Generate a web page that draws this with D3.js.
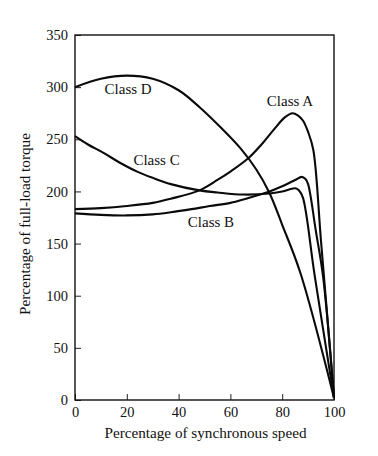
<!DOCTYPE html>
<html>
<head>
<meta charset="utf-8">
<script src="https://cdn.jsdelivr.net/npm/d3@7"></script>
<style>
  html, body { margin: 0; padding: 0; background: #fff; }
  svg text { fill: #111; }
</style>
</head>
<body>
<div id="chart"></div>
<script>
//////////////////////
//  main constants  //
//////////////////////
const WIDTH = 378;
const HEIGHT = 456;
const MARGIN = { TOP: 35, BOTTOM: 56, LEFT: 75, RIGHT: 44 };
const FONT = 'Liberation Serif';

// torque-speed curves: x = % synchronous speed, y = % full-load torque
const classA_x = [0, 10, 20, 30, 37, 48, 55, 60, 67, 72, 77, 81, 84, 86, 88, 90, 92, 95, 100];
const classA_y = [183, 184, 186, 189, 193, 201, 211, 219, 232, 245, 260, 271, 275, 273, 268, 257, 240, 152, 2];

const classB_x = [0, 10, 20, 30, 37, 45, 52, 60, 66, 74, 80, 85, 87.5, 89, 90, 93, 95.8, 100];
const classB_y = [179, 177.5, 177, 178, 180, 183, 186, 189, 193, 199, 205, 211, 214, 212, 207, 162, 118, 2];

const classC_x = [0, 5, 11, 17, 24, 30, 37, 48, 55, 65, 75, 80, 85, 86.5, 88, 92.5, 100];
const classC_y = [253, 245, 237, 228, 219, 213, 207, 201, 199, 197, 198, 200, 203, 201, 194, 120, 2];

const classD_x = [0, 10, 20, 30, 40, 48, 56, 64, 70, 75, 80, 87, 100];
const classD_y = [300, 308, 311, 308, 297, 281, 262, 241, 221, 199, 168, 122, 2];

const seriesNames = ["Class A", "Class B", "Class C", "Class D"];
const labelPos = [[83, 282], [52.5, 166], [31.5, 225], [20.5, 293]];  // data coords of label centre/baseline

const xTicks = [0, 20, 40, 60, 80, 100];
const yTicks = [0, 50, 100, 150, 200, 250, 300, 350];

const widthSVG = WIDTH - MARGIN.LEFT - MARGIN.RIGHT;
const heightSVG = HEIGHT - MARGIN.TOP - MARGIN.BOTTOM;

///////////////////
//  build svg    //
///////////////////
const SVG = d3.select('#chart').append('svg')
    .attr('width', WIDTH)
    .attr('height', HEIGHT);

const container = SVG.append('g')
    .attr('transform', `translate(${MARGIN.LEFT}, ${MARGIN.TOP})`);

const x = d3.scaleLinear().domain([0, 100]).range([0, widthSVG]);
const y = d3.scaleLinear().domain([0, 350]).range([heightSVG, 0]);

//////////////
//  axes    //
//////////////
const xAxis = container.append('g')
    .attr('transform', `translate(0, ${heightSVG})`)
    .call(d3.axisBottom(x).tickValues(xTicks).tickSize(-6).tickPadding(7));

const yAxis = container.append('g')
    .call(d3.axisLeft(y).tickValues(yTicks).tickSize(-6).tickPadding(7));

[xAxis, yAxis].forEach(a => {
    a.select('.domain').remove();
    a.selectAll('.tick line').attr('stroke', '#222').attr('stroke-width', 1);
    a.selectAll('.tick text')
        .style('font-family', FONT)
        .style('font-size', '14.5px')
        .attr('fill', '#111');
});

// frame
container.append('rect')
    .attr('x', 0).attr('y', 0)
    .attr('width', widthSVG).attr('height', heightSVG)
    .attr('fill', 'none')
    .attr('stroke', '#111')
    .attr('stroke-width', 1.4);

//////////////
//  curves  //
//////////////
const line = d3.line()
    .x(d => x(d[0]))
    .y(d => y(d[1]))
    .curve(d3.curveCatmullRom.alpha(0.5));

const allSeries = [
    d3.zip(classA_x, classA_y),
    d3.zip(classB_x, classB_y),
    d3.zip(classC_x, classC_y),
    d3.zip(classD_x, classD_y)
];

container.selectAll('.curve')
    .data(allSeries)
    .join('path')
    .attr('class', 'curve')
    .attr('d', line)
    .attr('fill', 'none')
    .attr('stroke', '#0a0a0a')
    .attr('stroke-width', 2.1)
    .attr('stroke-linejoin', 'round');

container.selectAll('.clabel')
    .data(seriesNames)
    .join('text')
    .attr('class', 'clabel')
    .attr('x', (d, i) => x(labelPos[i][0]))
    .attr('y', (d, i) => y(labelPos[i][1]))
    .attr('text-anchor', 'middle')
    .style('font-family', FONT)
    .style('font-size', '15px')
    .text(d => d);

//////////////////////
//  axis titles     //
//////////////////////
SVG.append('text')
    .attr('x', MARGIN.LEFT + widthSVG / 2 + 1)
    .attr('y', 438)
    .attr('text-anchor', 'middle')
    .style('font-family', FONT)
    .style('font-size', '15.2px')
    .text('Percentage of synchronous speed');

SVG.append('text')
    .attr('transform', 'translate(30, 224) rotate(-90)')
    .attr('text-anchor', 'middle')
    .style('font-family', FONT)
    .style('font-size', '15.2px')
    .text('Percentage of full-load torque');
</script>
</body>
</html>
